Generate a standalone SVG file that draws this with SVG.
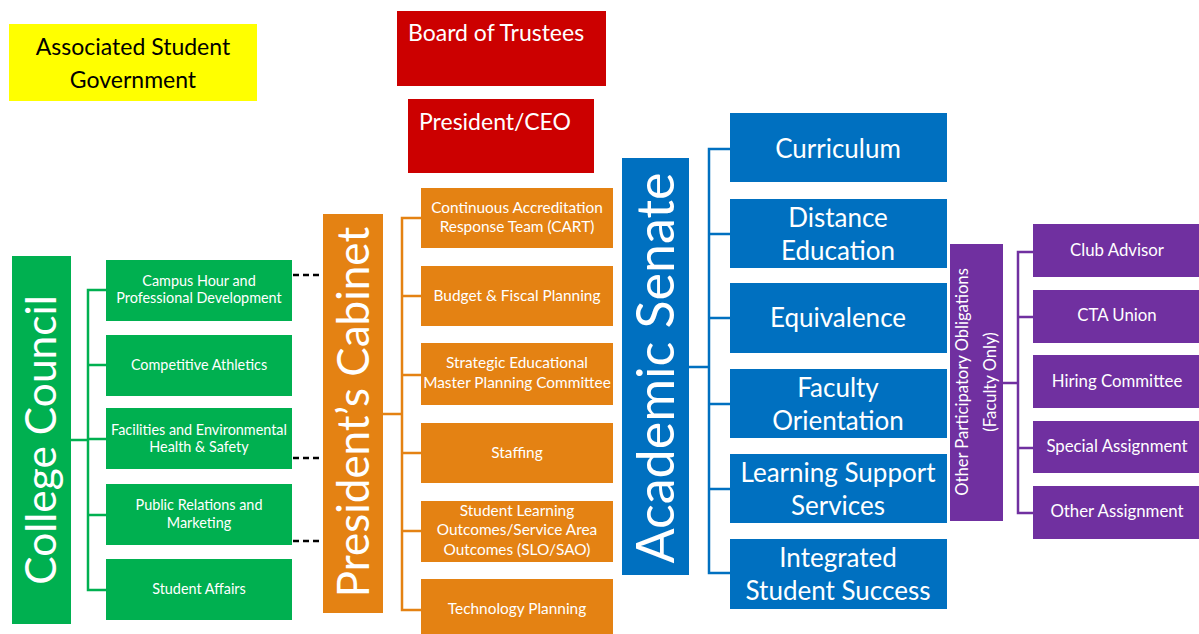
<svg xmlns="http://www.w3.org/2000/svg" width="1199" height="634" viewBox="0 0 1199 634">
<style>
text{font-family:Lato,"Liberation Sans",sans-serif;fill:#fff;text-anchor:middle}
.g{fill:#00B050}.o{fill:#E48213}.b{fill:#0070C0}.p{fill:#7030A0}.r{fill:#CC0000}.y{fill:#FFFF00}
.sm{font-size:14.4px}.om{font-size:15.4px}.bm{font-size:26px}.pm{font-size:16.8px}
.cg{stroke:#00B050}.co{stroke:#E48213}.cb{stroke:#0070C0}.cp{stroke:#7030A0}
#connectors path{fill:none;stroke-width:2.5}
.dash{stroke:#000;stroke-width:2.5;stroke-dasharray:6 4;fill:none}
</style>
<rect width="1199" height="634" fill="#fff"/>
<g id="connectors">
<path class="cg" d="M71 440H88M106 290H88V590H106M88 365H106M88 439H106M88 515H106"/>
<path class="co" d="M383 414H402M421 218H402V610H421M402 296H421M402 375H421M402 453H421M402 531H421"/>
<path class="cb" d="M689 367H709M730 149H709V573H730M709 234H730M709 318H730M709 404H730M709 489H730"/>
<path class="cp" d="M1003 383H1018M1033 252H1018V513H1033M1018 317H1033M1018 448H1033"/>
<path class="dash" d="M283 275H323M283 458H323M283 541H323"/>
</g>
<g id="asg"><rect class="y" x="9" y="24" width="248" height="77"/>
<text x="133" y="55" style="font-size:23px;fill:#000">Associated Student</text>
<text x="133" y="88" style="font-size:23px;fill:#000">Government</text></g>
<g id="board"><rect class="r" x="397" y="11" width="209" height="75"/>
<text x="408" y="41" style="font-size:23px;text-anchor:start">Board of Trustees</text></g>
<g id="president"><rect class="r" x="408" y="99" width="186" height="74"/>
<text x="419" y="130" style="font-size:23px;text-anchor:start">President/CEO</text></g>
<g id="college-council"><rect class="g" x="12" y="256" width="59" height="368"/>
<text transform="translate(56,440) rotate(-90)" style="font-size:42.5px">College Council</text></g>
<g id="g1"><rect class="g" x="106" y="260" width="186" height="61"/>
<text class="sm" x="199" y="286">Campus Hour and</text><text class="sm" x="199" y="303">Professional Development</text></g>
<g id="g2"><rect class="g" x="106" y="335" width="186" height="61"/>
<text class="sm" x="199" y="370">Competitive Athletics</text></g>
<g id="g3"><rect class="g" x="106" y="408" width="186" height="61"/>
<text class="sm" x="199" y="435">Facilities and Environmental</text><text class="sm" x="199" y="452">Health &amp; Safety</text></g>
<g id="g4"><rect class="g" x="106" y="484" width="186" height="61"/>
<text class="sm" x="199" y="510">Public Relations and</text><text class="sm" x="199" y="528">Marketing</text></g>
<g id="g5"><rect class="g" x="106" y="559" width="186" height="61"/>
<text class="sm" x="199" y="594">Student Affairs</text></g>
<g id="cabinet"><rect class="o" x="323" y="214" width="60" height="399"/>
<text transform="translate(369,412) rotate(-90)" style="font-size:44px">President’s Cabinet</text></g>
<g id="o1"><rect class="o" x="421" y="188" width="192" height="60"/>
<text class="om" x="517" y="213">Continuous Accreditation</text><text class="om" x="517" y="232">Response Team (CART)</text></g>
<g id="o2"><rect class="o" x="421" y="266" width="192" height="60"/>
<text class="om" x="517" y="301">Budget &amp; Fiscal Planning</text></g>
<g id="o3"><rect class="o" x="421" y="343" width="192" height="62"/>
<text class="om" x="517" y="368">Strategic Educational</text><text class="om" x="517" y="388">Master Planning Committee</text></g>
<g id="o4"><rect class="o" x="421" y="423" width="192" height="60"/>
<text class="om" x="517" y="458">Staffing</text></g>
<g id="o5"><rect class="o" x="421" y="501" width="192" height="61"/>
<text class="om" x="517" y="516">Student Learning</text><text class="om" x="517" y="535">Outcomes/Service Area</text><text class="om" x="517" y="555">Outcomes (SLO/SAO)</text></g>
<g id="o6"><rect class="o" x="421" y="579" width="192" height="55"/>
<text class="om" x="517" y="614">Technology Planning</text></g>
<g id="senate"><rect class="b" x="622" y="158" width="67" height="417"/>
<text transform="translate(674,368) rotate(-90)" style="font-size:52px">Academic Senate</text></g>
<g id="b1"><rect class="b" x="730" y="113" width="217" height="69"/>
<text class="bm" x="838" y="158">Curriculum</text></g>
<g id="b2"><rect class="b" x="730" y="199" width="217" height="69"/>
<text class="bm" x="838" y="227">Distance</text><text class="bm" x="838" y="260">Education</text></g>
<g id="b3"><rect class="b" x="730" y="283" width="217" height="70"/>
<text class="bm" x="838" y="327">Equivalence</text></g>
<g id="b4"><rect class="b" x="730" y="369" width="217" height="69"/>
<text class="bm" x="838" y="397">Faculty</text><text class="bm" x="838" y="430">Orientation</text></g>
<g id="b5"><rect class="b" x="730" y="454" width="217" height="69"/>
<text class="bm" x="838" y="482">Learning Support</text><text class="bm" x="838" y="515">Services</text></g>
<g id="b6"><rect class="b" x="730" y="539" width="217" height="70"/>
<text class="bm" x="838" y="567">Integrated</text><text class="bm" x="838" y="600">Student Success</text></g>
<g id="obligations"><rect class="p" x="950" y="244" width="53" height="277"/>
<text transform="translate(968,382) rotate(-90)" style="font-size:16.6px">Other Participatory Obligations</text>
<text transform="translate(996,382) rotate(-90)" style="font-size:16.6px">(Faculty Only)</text></g>
<g id="p1"><rect class="p" x="1033" y="224" width="168" height="53"/>
<text class="pm" x="1117" y="256">Club Advisor</text></g>
<g id="p2"><rect class="p" x="1033" y="290" width="168" height="53"/>
<text class="pm" x="1117" y="321">CTA Union</text></g>
<g id="p3"><rect class="p" x="1033" y="355" width="168" height="53"/>
<text class="pm" x="1117" y="387">Hiring Committee</text></g>
<g id="p4"><rect class="p" x="1033" y="421" width="168" height="52"/>
<text class="pm" x="1117" y="452">Special Assignment</text></g>
<g id="p5"><rect class="p" x="1033" y="486" width="168" height="53"/>
<text class="pm" x="1117" y="517">Other Assignment</text></g>
</svg>
